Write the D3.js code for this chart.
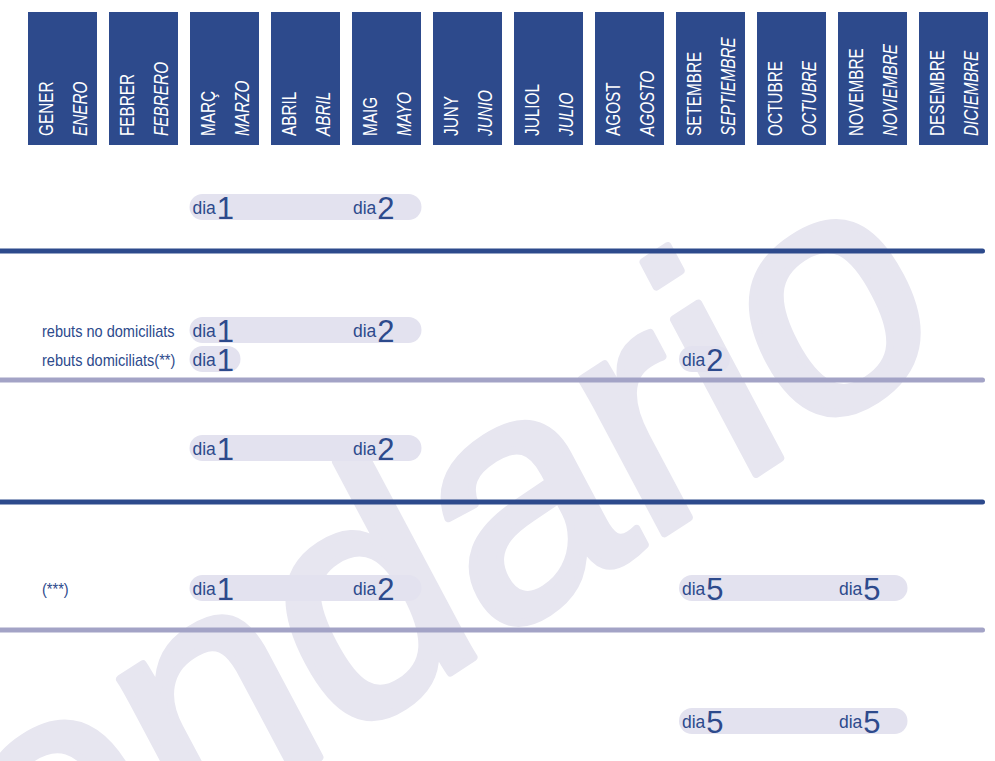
<!DOCTYPE html>
<html>
<head>
<meta charset="utf-8">
<script src="https://cdn.jsdelivr.net/npm/d3@7"></script>
<style>
  html, body { margin: 0; padding: 0; background: #fff; }
  svg { display: block; }
</style>
</head>
<body>
<svg id="chart" width="995" height="761"></svg>
<script>
// ---------- data ----------
const monthsCa = ["GENER","FEBRER","MARÇ","ABRIL","MAIG","JUNY","JULIOL","AGOST","SETEMBRE","OCTUBRE","NOVEMBRE","DESEMBRE"];
const monthsEs = ["ENERO","FEBRERO","MARZO","ABRIL","MAYO","JUNIO","JULIO","AGOSTO","SEPTIEMBRE","OCTUBRE","NOVIEMBRE","DICIEMBRE"];
const rowIds = ["r1","r2a","r2b","r3","r4","r5"];
const rowLabels = ["", "rebuts no domiciliats", "rebuts domiciliats(**)", "", "(***)", ""];
const periodRows = ["r1","r2a","r2b","r2b","r3","r4","r4","r5"];
const periodFrom = ["MARÇ","MARÇ","MARÇ","SETEMBRE","MARÇ","MARÇ","SETEMBRE","SETEMBRE"];
const periodFromDay = [1,1,1,2,1,1,5,5];
const periodTo = ["MAIG","MAIG",null,null,"MAIG","MAIG","NOVEMBRE","NOVEMBRE"];
const periodToDay = [2,2,null,null,2,2,5,5];
const separatorAfter = ["r1","r2b","r3","r4"];
const separatorKind = ["dark","light","dark","light"];
const watermark = "calendario";

// ---------- styles ----------
const DARK = "#2d4a8c";
const PILL = "#e3e2ef";
const LIGHT = "#a3a3c6";
const WM = "#e7e6f0";

const svg = d3.select("#chart");

const x = d3.scaleBand().domain(monthsCa).range([28, 988]).paddingInner(12/81).paddingOuter(0);
const y = d3.scaleOrdinal().domain(rowIds).range([207, 330, 359, 448, 588, 721]);
const sepY = d3.scaleOrdinal().domain(separatorAfter).range([251, 380, 502, 630]);

// ---------- watermark ----------
svg.append("text")
  .attr("transform", "translate(953,346) rotate(-33) skewX(-5)")
  .attr("text-anchor", "end")
  .attr("font-family", "Liberation Sans, Arial, sans-serif")
  .attr("font-size", 330)
  .attr("fill", WM)
  .attr("stroke", WM)
  .attr("stroke-width", 8)
  .attr("stroke-linejoin", "round")
  .text(watermark);

// ---------- header ----------
const head = svg.append("g").selectAll("g").data(monthsCa).join("g")
  .attr("transform", d => `translate(${x(d)},12)`);
head.append("rect")
  .attr("width", x.bandwidth()).attr("height", 133)
  .attr("fill", DARK);
head.append("text")
  .attr("transform", `translate(25,124) rotate(-90) scale(0.73,1)`)
  .attr("font-family", "Liberation Sans, Arial, sans-serif")
  .attr("font-size", 21)
  .attr("fill", "#fff")
  .text(d => d);
head.append("text")
  .attr("transform", `translate(59,124) rotate(-90) scale(0.73,1)`)
  .attr("font-family", "Liberation Sans, Arial, sans-serif")
  .attr("font-size", 21)
  .attr("font-style", "italic")
  .attr("fill", "#fff")
  .text((d, i) => monthsEs[i]);

// ---------- separators ----------
svg.append("g").selectAll("line").data(separatorAfter).join("line")
  .attr("x1", -5).attr("x2", 982.5)
  .attr("y1", d => sepY(d)).attr("y2", d => sepY(d))
  .attr("stroke", (d, i) => separatorKind[i] === "dark" ? DARK : LIGHT)
  .attr("stroke-width", 5)
  .attr("stroke-linecap", "round");

// ---------- row labels ----------
svg.append("g").selectAll("text").data(rowIds.filter((r, i) => rowLabels[i])).join("text")
  .attr("transform", d => `translate(42,${y(d) + 7}) scale(0.91,1)`)
  .attr("font-family", "Liberation Sans, Arial, sans-serif")
  .attr("font-size", 16)
  .attr("fill", DARK)
  .text(d => rowLabels[rowIds.indexOf(d)]);

// ---------- periods ----------
const periods = periodRows.map((r, i) => ({
  row: r, from: periodFrom[i], fromDay: periodFromDay[i], to: periodTo[i], toDay: periodToDay[i]
}));

const pg = svg.append("g").selectAll("g").data(periods).join("g");
pg.append("rect")
  .attr("x", d => x(d.from) + (d.from === "MARÇ" ? -0.5 : 3))
  .attr("y", d => y(d.row) - 13)
  .attr("width", d => d.to ? (x(d.to) + x.bandwidth() + 0.5) - (x(d.from) + (d.from === "MARÇ" ? -0.5 : 3)) : 51)
  .attr("height", 26)
  .attr("rx", 13)
  .attr("fill", PILL);

function dayLabel(sel, xPos, day) {
  const t = sel.append("text")
    .attr("x", xPos)
    .attr("fill", DARK)
    .attr("font-family", "Liberation Sans, Arial, sans-serif");
  t.append("tspan").attr("font-size", 17.5).text("dia");
  t.append("tspan").attr("font-size", 31).attr("dx", 1).attr("dy", 5).text(day);
  return t;
}
pg.each(function(d) {
  const g = d3.select(this);
  dayLabel(g, x(d.from) + (d.from === "MARÇ" ? 2.5 : 6), d.fromDay).attr("y", y(d.row) + 7);
  if (d.to) dayLabel(g, x(d.to) + 1, d.toDay).attr("y", y(d.row) + 7);
});
</script>
</body>
</html>
